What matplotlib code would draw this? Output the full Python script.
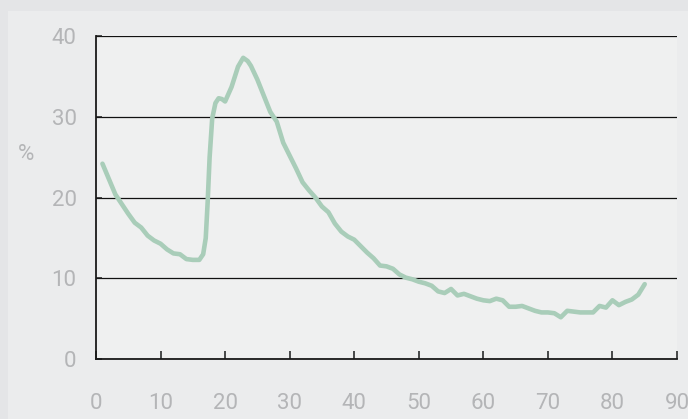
import numpy as np
import matplotlib
matplotlib.use("Agg")
import matplotlib.pyplot as plt
from matplotlib.patches import Rectangle

# series
x_vals = [1, 2, 3, 4, 5, 6, 7, 8, 9, 10, 11, 12, 13, 14, 15, 16, 16.6, 17, 17.3, 17.6,
          18, 18.5, 19, 19.5, 20, 21, 22, 22.8, 23.5, 24, 25, 26, 27, 28, 29, 30,
          31, 32, 33, 34, 35, 36, 37, 38, 39, 40, 41, 42, 43, 44, 45, 46, 47, 48,
          49, 50, 51, 52, 53, 54, 55, 56, 57, 58, 59, 60, 61, 62, 63, 64, 65, 66,
          67, 68, 69, 70, 71, 72, 73, 74, 75, 76, 77, 78, 79, 80, 81, 82, 83, 84, 85]
y_vals = [24.2, 22.3, 20.4, 19.2, 18.0, 16.9, 16.3, 15.3, 14.7, 14.3, 13.6, 13.1, 13.0,
          12.4, 12.3, 12.3, 13.0, 15.0, 19.5, 25.0,
          29.8, 31.7, 32.3, 32.2, 31.9, 33.7, 36.2, 37.3, 36.9, 36.3, 34.6, 32.6, 30.6,
          29.4, 26.8, 25.2, 23.6, 21.9, 20.9, 20.0, 18.9, 18.2, 16.8, 15.8, 15.2, 14.8,
          14.0, 13.2, 12.5, 11.6, 11.5, 11.2, 10.5, 10.1, 9.9, 9.6, 9.4, 9.1, 8.4, 8.2,
          8.7, 7.9, 8.1, 7.8, 7.5, 7.3, 7.2, 7.5, 7.3, 6.5, 6.5, 6.6, 6.3, 6.0, 5.8,
          5.8, 5.7, 5.2, 6.0, 5.9, 5.8, 5.8, 5.8, 6.6, 6.4, 7.3, 6.7, 7.1, 7.4, 8.0, 9.3]

x_ticks = [0, 10, 20, 30, 40, 50, 60, 70, 80, 90]
y_ticks = [0, 10, 20, 30, 40]

plt.rcParams['font.family'] = ['Roboto', 'DejaVu Sans']

label_color = '#b4b5b7'
line_color = '#a9cdb9'

fig = plt.figure(figsize=(6.88, 4.19), dpi=100)
fig.patch.set_facecolor('#e4e5e7')
# lighter inner panel, kept behind the axes
fig.patches.append(Rectangle((8 / 688, 0), 1, 1 - 11 / 419, transform=fig.transFigure,
                             facecolor='#ebeced', edgecolor='none', zorder=-5))

ax = fig.add_axes([96 / 688, 1 - 359.3 / 419, (677 - 96) / 688, (359.3 - 36) / 419])
ax.set_zorder(1)
ax.set_facecolor('#eff0f0')

ax.plot(x_vals, y_vals, color=line_color, linewidth=3.3,
        solid_capstyle='round', solid_joinstyle='round', zorder=3)

ax.set_xlim(0, 90)
ax.set_ylim(0, 40)
ax.set_xticks(x_ticks)
ax.set_yticks(y_ticks)

ax.grid(axis='y', color='#111111', linewidth=0.9)
ax.set_axisbelow(True)

for side in ['top', 'right']:
    ax.spines[side].set_visible(False)
for side in ['left', 'bottom']:
    ax.spines[side].set_color('#1a1a1a')
    ax.spines[side].set_linewidth(1.3)

ax.tick_params(axis='x', direction='in', length=5.5, width=1.1, color='#1a1a1a',
               pad=24, labelsize=16, labelcolor=label_color)
ax.tick_params(axis='y', direction='in', length=4.5, width=1.1, color='#1a1a1a',
               pad=14, labelsize=16, labelcolor=label_color)

fig.text(26 / 688, 1 - 154 / 419, '%', ha='center', va='center',
         fontsize=16, color=label_color)

fig.savefig('out.png', dpi=100, facecolor=fig.get_facecolor())
